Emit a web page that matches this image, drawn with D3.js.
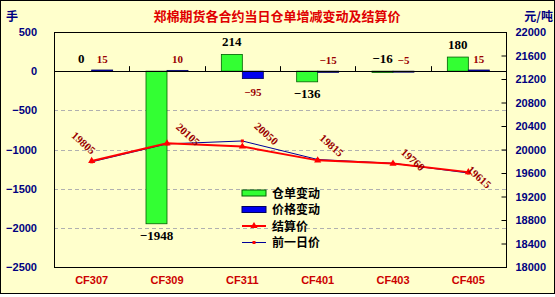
<!DOCTYPE html>
<html lang="zh">
  <head>
    <meta charset="utf-8" />
    <title>郑棉期货各合约当日仓单增减变动及结算价</title>
    <script src="https://cdnjs.cloudflare.com/ajax/libs/d3/7.8.5/d3.min.js"></script>
    <style>
      body {
        margin: 0;
        background: #fff;
      }
      svg text {
        font-family: "Liberation Sans", "Noto Sans CJK SC", sans-serif;
        font-weight: bold;
      }
      .cn {
        font-family: "Noto Sans CJK SC", sans-serif;
      }
      .num {
        font-family: "Liberation Serif", serif;
      }
    </style>
  </head>
  <body>
    <div id="chart"></div>
    <script>
      // chart data
      const contracts = ["CF307", "CF309", "CF311", "CF401", "CF403", "CF405"];
      const warrantChange = [0, -1948, 214, -136, -16, 180]; // 仓单变动 (手)
      const priceChange = [15, 10, -95, -15, -5, 15]; // 价格变动
      const settlePrice = [19805, 20105, 20050, 19815, 19760, 19615]; // 结算价
      const prevPrice = [19790, 20095, 20145, 19830, 19765, 19600]; // 前一日价
      const leftTicks = [500, 0, -500, -1000, -1500, -2000, -2500];
      const rightTicks = [22000, 21600, 21200, 20800, 20400, 20000, 19600, 19200, 18800, 18400, 18000];

      // where each settle label sits relative to its point (dx, dy)
      const labelShift = [[-8, -18], [21, -9], [24, -13], [14, -15], [20, -4], [11, 5]];

      const W = 555, H = 297;
      const plot = { left: 54, right: 506, top: 32, bottom: 267 };

      const svg = d3.select("#chart").append("svg")
        .attr("width", W).attr("height", H);

      svg.append("rect")
        .attr("x", 0.5).attr("y", 0.5)
        .attr("width", W - 1).attr("height", H - 4)
        .attr("fill", "#ffffcc").attr("stroke", "#000");

      const x = d3.scaleBand().domain(contracts).range([plot.left, plot.right]);
      const yL = d3.scaleLinear().domain([-2500, 500]).range([plot.bottom, plot.top]);
      const yR = d3.scaleLinear().domain([18000, 22000]).range([plot.bottom, plot.top]);
      const cx = (c) => x(c) + x.bandwidth() / 2;
      const barW = 21;

      // title
      svg.append("text")
        .attr("class", "cn")
        .attr("x", 277).attr("y", 21)
        .attr("text-anchor", "middle")
        .attr("fill", "#e00000")
        .attr("font-size", 13)
        .text("郑棉期货各合约当日仓单增减变动及结算价");

      svg.append("text").attr("class", "cn")
        .attr("x", 6).attr("y", 21).attr("fill", "#000080").attr("font-size", 12)
        .text("手");
      svg.append("text").attr("class", "cn")
        .attr("x", 553).attr("y", 21).attr("text-anchor", "end")
        .attr("fill", "#000080").attr("font-size", 12)
        .text("元/吨");

      // gridlines
      svg.append("g").selectAll("line")
        .data(leftTicks.filter((t) => t < 0 && t > -2500))
        .join("line")
        .attr("x1", plot.left).attr("x2", plot.right)
        .attr("y1", (d) => Math.round(yL(d)) + 0.5)
        .attr("y2", (d) => Math.round(yL(d)) + 0.5)
        .attr("stroke", "#b0b0b0")
        .attr("stroke-dasharray", "4,3");

      // plot frame
      svg.append("rect")
        .attr("x", plot.left + 0.5).attr("y", plot.top + 0.5)
        .attr("width", plot.right - plot.left).attr("height", plot.bottom - plot.top)
        .attr("fill", "none").attr("stroke", "#000");

      // left axis
      const axL = d3.axisLeft(yL).tickValues(leftTicks).tickSize(0).tickPadding(17)
        .tickFormat((d) => (d < 0 ? "\u2212" + Math.abs(d) : d));
      const gL = svg.append("g").attr("transform", `translate(${plot.left},0)`).call(axL);
      gL.select(".domain").remove();
      gL.selectAll("text").attr("fill", "#000080").attr("font-size", 11);

      // right axis
      const axR = d3.axisRight(yR).tickValues(rightTicks).tickSize(-5).tickPadding(13)
        .tickFormat(d3.format("d"));
      const gR = svg.append("g").attr("transform", `translate(${plot.right + 0.5},0)`).call(axR);
      gR.select(".domain").remove();
      gR.selectAll("line").attr("stroke", "#000");
      gR.selectAll("text").attr("fill", "#000080").attr("font-size", 11).attr("dx", -4);

      // bars
      const rows = contracts.map((c, i) => ({
        c, w: warrantChange[i], p: priceChange[i], s: settlePrice[i], v: prevPrice[i]
      }));

      svg.append("g").selectAll("rect")
        .data(rows).join("rect")
        .attr("x", (d) => cx(d.c) - barW)
        .attr("y", (d) => yL(Math.max(0, d.w)))
        .attr("width", barW)
        .attr("height", (d) => Math.abs(yL(d.w) - yL(0)))
        .attr("fill", "#33ff33").attr("stroke", "#006000").attr("stroke-width", 0.8);

      svg.append("g").selectAll("rect")
        .data(rows).join("rect")
        .attr("x", (d) => cx(d.c))
        .attr("y", (d) => yL(Math.max(0, d.p)))
        .attr("width", barW)
        .attr("height", (d) => Math.max(1, Math.abs(yL(d.p) - yL(0))))
        .attr("fill", "#0000ee").attr("stroke", "#000060").attr("stroke-width", 0.8);

      // zero line + category ticks
      svg.append("line")
        .attr("x1", plot.left).attr("x2", plot.right)
        .attr("y1", Math.round(yL(0)) + 0.5).attr("y2", Math.round(yL(0)) + 0.5)
        .attr("stroke", "#000");
      svg.append("g").selectAll("line")
        .data(contracts.slice(1)).join("line")
        .attr("x1", (d) => Math.round(x(d)) + 0.5).attr("x2", (d) => Math.round(x(d)) + 0.5)
        .attr("y1", yL(0) - 5).attr("y2", yL(0))
        .attr("stroke", "#000");

      // bar labels
      const labelY = (v) => (v >= 0 || v > -50 ? yL(Math.max(v, 0)) - 8 : yL(v) + 16);
      const fmt = (v) => (v < 0 ? "\u2212" + Math.abs(v) : v);

      svg.append("g").selectAll("text")
        .data(rows).join("text")
        .attr("class", "num")
        .attr("x", (d) => cx(d.c) - barW / 2)
        .attr("y", (d) => labelY(d.w))
        .attr("text-anchor", "middle")
        .attr("font-size", 13)
        .attr("fill", "#000")
        .text((d) => fmt(d.w));

      svg.append("g").selectAll("text")
        .data(rows).join("text")
        .attr("class", "num")
        .attr("x", (d) => cx(d.c) + barW / 2)
        .attr("y", (d) => labelY(d.p) + 1)
        .attr("text-anchor", "middle")
        .attr("font-size", 11)
        .attr("fill", "#990000")
        .text((d) => fmt(d.p));

      // lines
      const lineS = d3.line().x((d) => cx(d.c)).y((d) => yR(d.s));
      const lineV = d3.line().x((d) => cx(d.c)).y((d) => yR(d.v));
      const tri = d3.symbol().type(d3.symbolTriangle).size(22);

      svg.append("path").datum(rows).attr("d", lineV)
        .attr("fill", "none").attr("stroke", "#000099").attr("stroke-width", 1);
      svg.append("g").selectAll("rect")
        .data(rows).join("rect")
        .attr("x", (d) => cx(d.c) - 1.5).attr("y", (d) => yR(d.v) - 1.5)
        .attr("width", 3).attr("height", 3).attr("fill", "#ff0000");

      svg.append("path").datum(rows).attr("d", lineS)
        .attr("fill", "none").attr("stroke", "#ff0000").attr("stroke-width", 2);
      svg.append("g").selectAll("path")
        .data(rows).join("path")
        .attr("d", tri)
        .attr("transform", (d) => `translate(${cx(d.c)},${yR(d.s)})`)
        .attr("fill", "#ff0000");

      // settle labels
      svg.append("g").selectAll("text")
        .data(rows).join("text")
        .attr("class", "num")
        .attr("transform", (d, i) =>
          `translate(${cx(d.c) + labelShift[i][0]},${yR(d.s) + labelShift[i][1]}) rotate(42)`)
        .attr("text-anchor", "middle")
        .attr("dy", "0.35em")
        .attr("font-size", 11)
        .attr("fill", "#990000")
        .text((d) => d.s);

      // category labels
      svg.append("g").selectAll("text")
        .data(contracts).join("text")
        .attr("x", cx).attr("y", 284)
        .attr("text-anchor", "middle")
        .attr("font-size", 11)
        .attr("fill", "#cc0000")
        .text((d) => d);

      // legend
      const legend = [
        { name: "仓单变动", kind: "bar", fill: "#33ff33", stroke: "#006000" },
        { name: "价格变动", kind: "bar", fill: "#0000ee", stroke: "#000060" },
        { name: "结算价", kind: "line", stroke: "#ff0000", w: 2 },
        { name: "前一日价", kind: "line", stroke: "#000099", w: 1 }
      ];
      const lg = svg.append("g").attr("transform", "translate(242,193)")
        .selectAll("g").data(legend).join("g")
        .attr("transform", (d, i) => `translate(0,${i * 16.5})`);
      lg.filter((d) => d.kind === "bar").append("rect")
        .attr("x", 0).attr("y", -3).attr("width", 24).attr("height", 6)
        .attr("fill", (d) => d.fill).attr("stroke", (d) => d.stroke);
      lg.filter((d) => d.kind === "line").append("line")
        .attr("x1", 0).attr("x2", 24).attr("y1", 0).attr("y2", 0)
        .attr("stroke", (d) => d.stroke).attr("stroke-width", (d) => d.w);
      lg.filter((d) => d.name === "结算价").append("path")
        .attr("d", tri).attr("transform", "translate(12,0)").attr("fill", "#ff0000");
      lg.filter((d) => d.name === "前一日价").append("rect")
        .attr("x", 10.5).attr("y", -1.5).attr("width", 3).attr("height", 3).attr("fill", "#ff0000");
      lg.append("text")
        .attr("class", "cn")
        .attr("x", 30).attr("dy", "0.38em")
        .attr("font-size", 12)
        .attr("fill", "#000")
        .text((d) => d.name);
    </script>
  </body>
</html>
